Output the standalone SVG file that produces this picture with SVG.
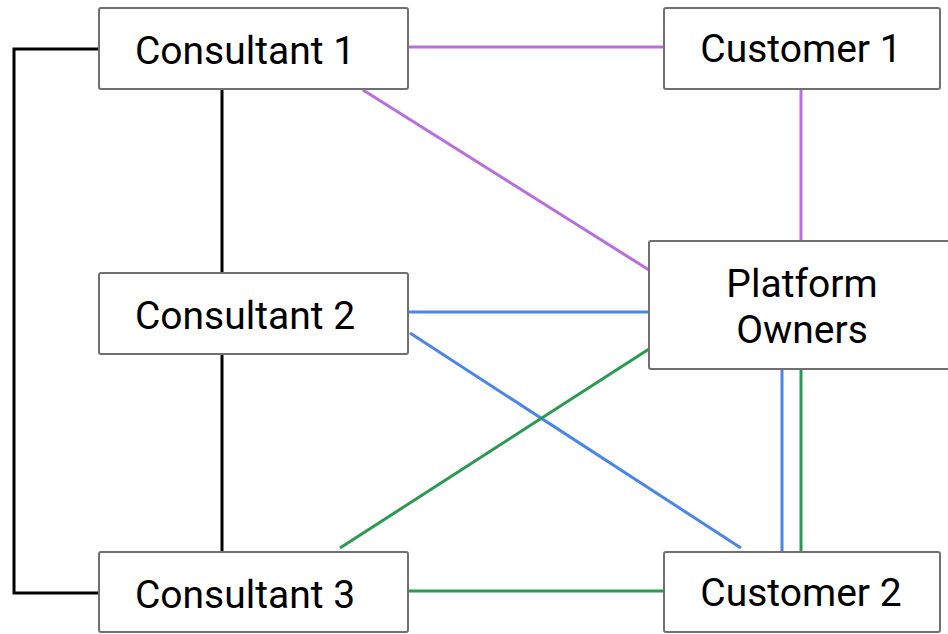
<svg xmlns="http://www.w3.org/2000/svg" width="948" height="634" viewBox="0 0 948 634">
<style>
.box{fill:#ffffff;stroke:#707070;stroke-width:2}
.lbl{font-family:Roboto,"Liberation Sans",sans-serif;font-size:39px;fill:#000000;text-anchor:middle}
.c{fill:none;stroke-width:3}
.k{stroke:#000000}
.p{stroke:#b86ee0}
.b{stroke:#4a86e8}
.g{stroke:#2a9a52}
</style>
<rect width="948" height="634" fill="#ffffff"/>
<g id="connectors">
<polyline class="c k" points="99,49 14,49 14,593 99,593"/>
<line class="c k" x1="222" y1="89" x2="222" y2="273"/>
<line class="c k" x1="222" y1="354" x2="222" y2="552"/>
<line class="c p" x1="408" y1="47" x2="664" y2="47"/>
<line class="c p" x1="363" y1="90" x2="649" y2="270"/>
<line class="c p" x1="801" y1="89" x2="801" y2="241"/>
<line class="c b" x1="408" y1="312" x2="649" y2="312"/>
<line class="c b" x1="410" y1="333" x2="741" y2="548"/>
<line class="c b" x1="782" y1="369" x2="782" y2="552"/>
<line class="c g" x1="801" y1="369" x2="801" y2="552"/>
<line class="c g" x1="340" y1="548" x2="649" y2="349"/>
<line class="c g" x1="408" y1="591" x2="664" y2="591"/>
</g>
<g id="consultant1">
<rect class="box" x="99" y="8" width="309" height="81" rx="2"/>
<text class="lbl" x="245" y="64">Consultant 1</text>
</g>
<g id="customer1">
<rect class="box" x="664" y="8" width="276" height="81" rx="2"/>
<text class="lbl" x="801" y="62">Customer 1</text>
</g>
<g id="platform">
<rect class="box" x="649" y="241" width="306" height="128" rx="2"/>
<text class="lbl" x="802" y="297">Platform</text>
<text class="lbl" x="802" y="343">Owners</text>
</g>
<g id="consultant2">
<rect class="box" x="99" y="273" width="309" height="81" rx="2"/>
<text class="lbl" x="245" y="329">Consultant 2</text>
</g>
<g id="consultant3">
<rect class="box" x="99" y="552" width="309" height="80" rx="2"/>
<text class="lbl" x="245" y="608">Consultant 3</text>
</g>
<g id="customer2">
<rect class="box" x="664" y="552" width="276" height="80" rx="2"/>
<text class="lbl" x="801" y="606">Customer 2</text>
</g>
</svg>
